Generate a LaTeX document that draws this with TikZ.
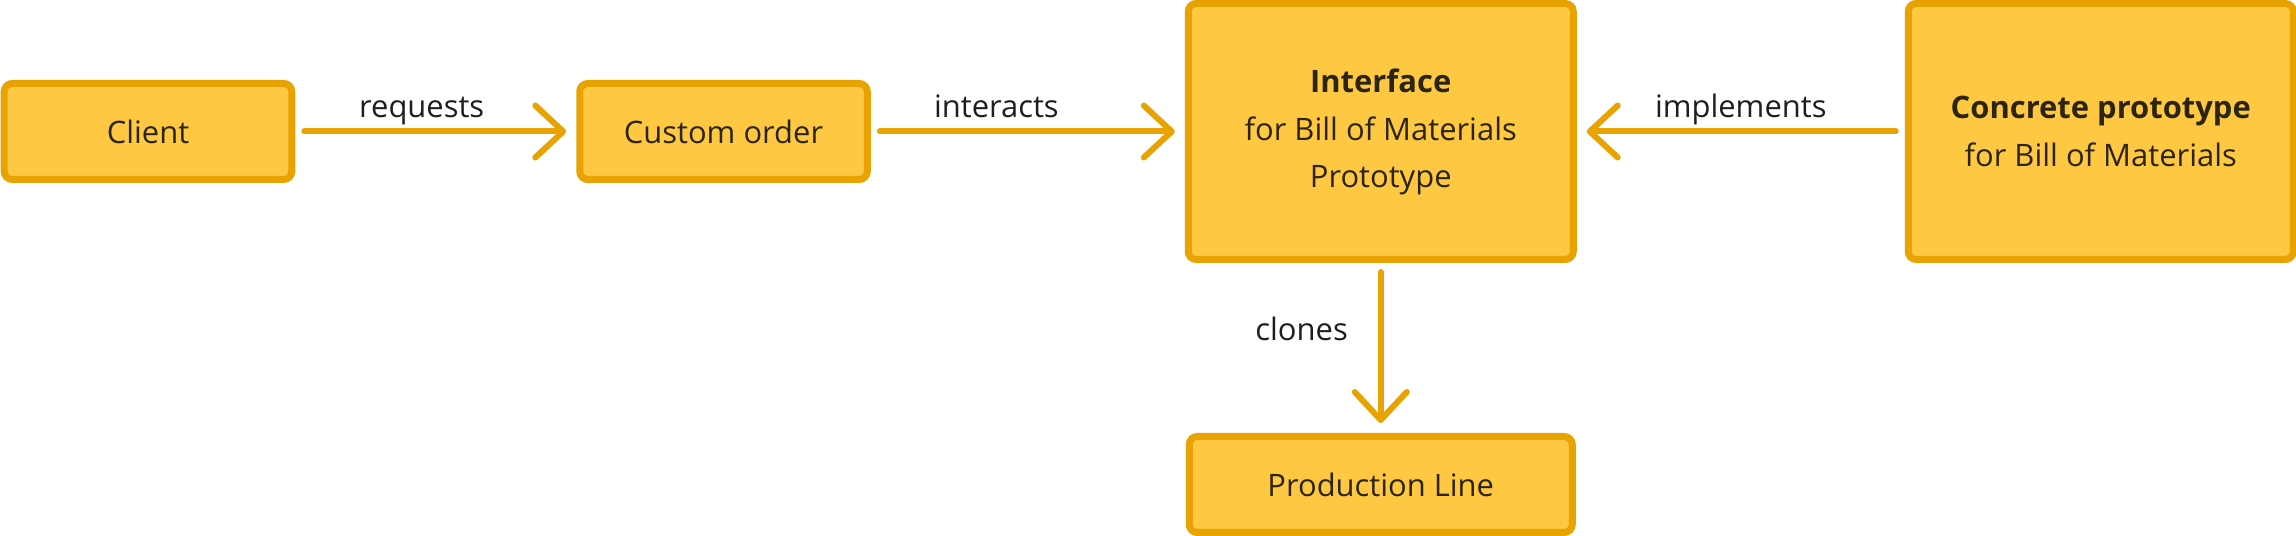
\documentclass[tikz,border=0pt]{standalone}
\usepackage{fontspec}
\setmainfont{Open Sans}
\usepackage{tikz}
\usetikzlibrary{positioning, arrows.meta}
\definecolor{boxfill}{HTML}{FEC842}
\definecolor{boxline}{HTML}{E8A300}
\definecolor{boxtext}{HTML}{2B2410}
\definecolor{lbltext}{HTML}{1E1E1E}
\newcommand{\diagfont}{\fontsize{17.6pt}{26.8pt}\selectfont}
\tikzset{
->, % every connector is directed
>={Straight Barb[length=0.56cm,width=1.04cm,round]}, % open chevron heads
box/.style={draw=boxline, fill=boxfill, line width=0.14cm, rounded corners=0.16cm, text=boxtext, align=center, font=\diagfont}, % the yellow boxes
small/.style={box, minimum width=5.75cm, minimum height=1.92cm},
big/.style={box, minimum width=7.70cm, minimum height=5.12cm},
flow/.style={draw=boxline, line width=0.12cm, line cap=round, shorten <=0.18cm, shorten >=0.2cm}, % connector lines
lbl/.style={text=lbltext, inner sep=0pt, text depth=0.25em, font=\diagfont}, % connector labels
}

\begin{document}
\begin{tikzpicture}
            \useasboundingbox (-2.96,2.63) rectangle (42.96,-8.09);
            \node[small] (client) {Client};
            \node[small, right=5.62cm of client] (order) {Custom order};
            \node[big, right=6.28cm of order] (interface) {\textbf{Interface}\\[0.5pt]for Bill of Materials\\Prototype};
            \node[big, right=6.56cm of interface] (concrete) {\textbf{Concrete prototype}\\for Bill of Materials};
            \node[small, minimum width=7.66cm, below=3.40cm of interface] (line) {Production Line};
            \draw
                (client) edge[flow] node[lbl, above=0.14cm, pos=0.45]{requests} (order)
                (order) edge[flow] node[lbl, above=0.14cm, pos=0.40]{interacts} (interface)
                (concrete) edge[flow] node[lbl, above=0.14cm]{implements} (interface)
                (interface) edge[flow] node[lbl, left=0.6cm, pos=0.40]{clones} (line);
        \end{tikzpicture}
\end{document}
